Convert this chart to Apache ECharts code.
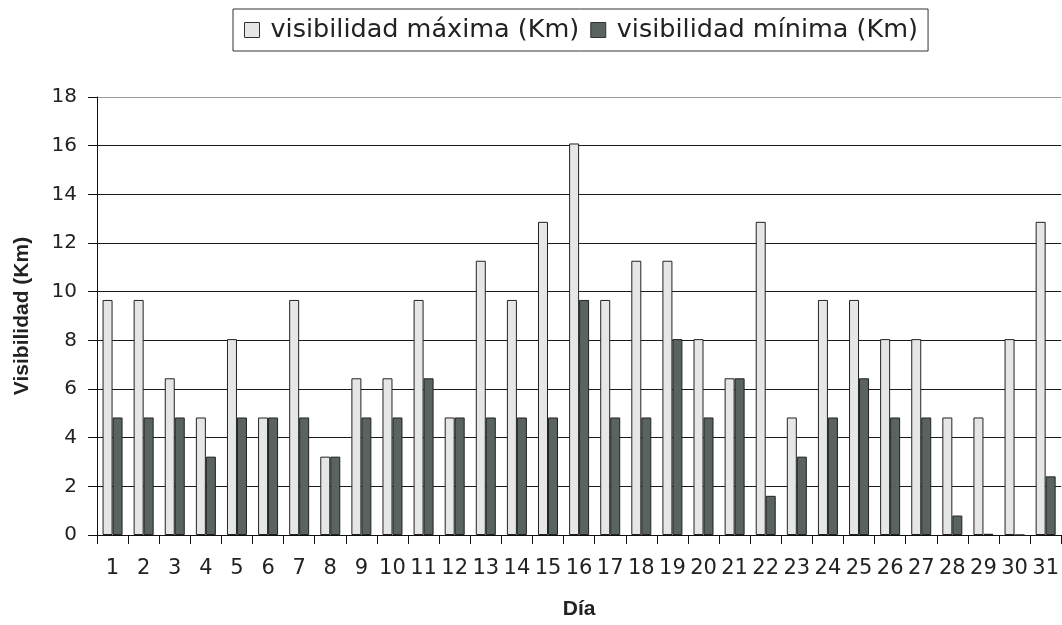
<!DOCTYPE html>
<html>
<head>
<meta charset="utf-8">
<script src="https://cdn.jsdelivr.net/npm/echarts@6/dist/echarts.min.js"></script>
<style>
  html, body { margin: 0; padding: 0; background: #fff; }
  #chart { width: 1062px; height: 625px; }
</style>
</head>
<body>
<div id="chart"></div>
<script>
// Días del mes
const dias = ['1','2','3','4','5','6','7','8','9','10','11','12','13','14','15','16',
              '17','18','19','20','21','22','23','24','25','26','27','28','29','30','31'];

// Visibilidad máxima diaria (Km)
const visMaxima = [9.66, 9.66, 6.44, 4.83, 8.05, 4.83, 9.66, 3.22, 6.44, 6.44, 9.66,
                   4.83, 11.27, 9.66, 12.87, 16.09, 9.66, 11.27, 11.27, 8.05, 6.44,
                   12.87, 4.83, 9.66, 9.66, 8.05, 8.05, 4.83, 4.83, 8.05, 12.87];

// Visibilidad mínima diaria (Km)
const visMinima = [4.83, 4.83, 4.83, 3.22, 4.83, 4.83, 4.83, 3.22, 4.83, 4.83, 6.44,
                   4.83, 4.83, 4.83, 4.83, 9.66, 4.83, 4.83, 8.05, 4.83, 6.44,
                   1.61, 3.22, 4.83, 6.44, 4.83, 4.83, 0.8, 0.05, 0, 2.41];

const nombreMax = 'visibilidad máxima (Km)';
const nombreMin = 'visibilidad mínima (Km)';

const fuente = 'DejaVu Sans';
const fuenteTitulo = 'Liberation Sans';

const chart = echarts.init(document.getElementById('chart'));

chart.setOption({
  animation: false,
  backgroundColor: '#fff',
  legend: {
    left: 233,
    top: 9,
    padding: [8, 10, 8, 11],
    itemWidth: 15,
    itemHeight: 15,
    itemGap: 11,
    icon: 'rect',
    borderColor: '#333',
    borderWidth: 1,
    itemStyle: { borderColor: '#333', borderWidth: 1 },
    textStyle: { fontFamily: fuente, fontSize: 25.5, color: '#222', padding: [0, 0, 0, 6] },
    data: [nombreMax, nombreMin]
  },
  grid: { left: 97, right: 0, top: 97, bottom: 88, containLabel: false },
  xAxis: {
    type: 'category',
    data: dias,
    name: 'Día',
    nameLocation: 'middle',
    nameGap: 64,
    nameTextStyle: { fontFamily: fuenteTitulo, fontWeight: 'bold', fontSize: 21, color: '#222' },
    axisLine: { lineStyle: { color: '#111', width: 1 } },
    axisTick: { show: true, length: 9, inside: false, lineStyle: { color: '#111' } },
    axisLabel: { fontFamily: fuente, fontSize: 21, color: '#222', margin: 23, interval: 0 }
  },
  yAxis: {
    type: 'value',
    min: 0,
    max: 18,
    interval: 2,
    name: 'Visibilidad (Km)',
    nameLocation: 'middle',
    nameGap: 64,
    nameTextStyle: { fontFamily: fuenteTitulo, fontWeight: 'bold', fontSize: 21, color: '#222' },
    axisLine: { show: true, lineStyle: { color: '#111', width: 1 } },
    axisTick: { show: true, length: 9, lineStyle: { color: '#111' } },
    axisLabel: { fontFamily: fuente, fontSize: 20, color: '#222', margin: 20 },
    splitLine: {
      show: true,
      lineStyle: {
        color: ['#111', '#1a1a1a', '#1a1a1a', '#1a1a1a', '#1a1a1a', '#1a1a1a', '#1a1a1a', '#1a1a1a', '#1a1a1a', '#9a9a9a'],
        width: 1
      }
    }
  },
  series: [
    {
      name: nombreMax,
      type: 'bar',
      data: visMaxima,
      barWidth: 10,
      barGap: '0%',
      itemStyle: { color: '#e5e7e5', borderColor: '#222', borderWidth: 1 }
    },
    {
      name: nombreMin,
      type: 'bar',
      data: visMinima,
      barWidth: 10,
      barGap: '0%',
      itemStyle: { color: '#59635f', borderColor: '#222', borderWidth: 1 }
    }
  ]
});
</script>
</body>
</html>
